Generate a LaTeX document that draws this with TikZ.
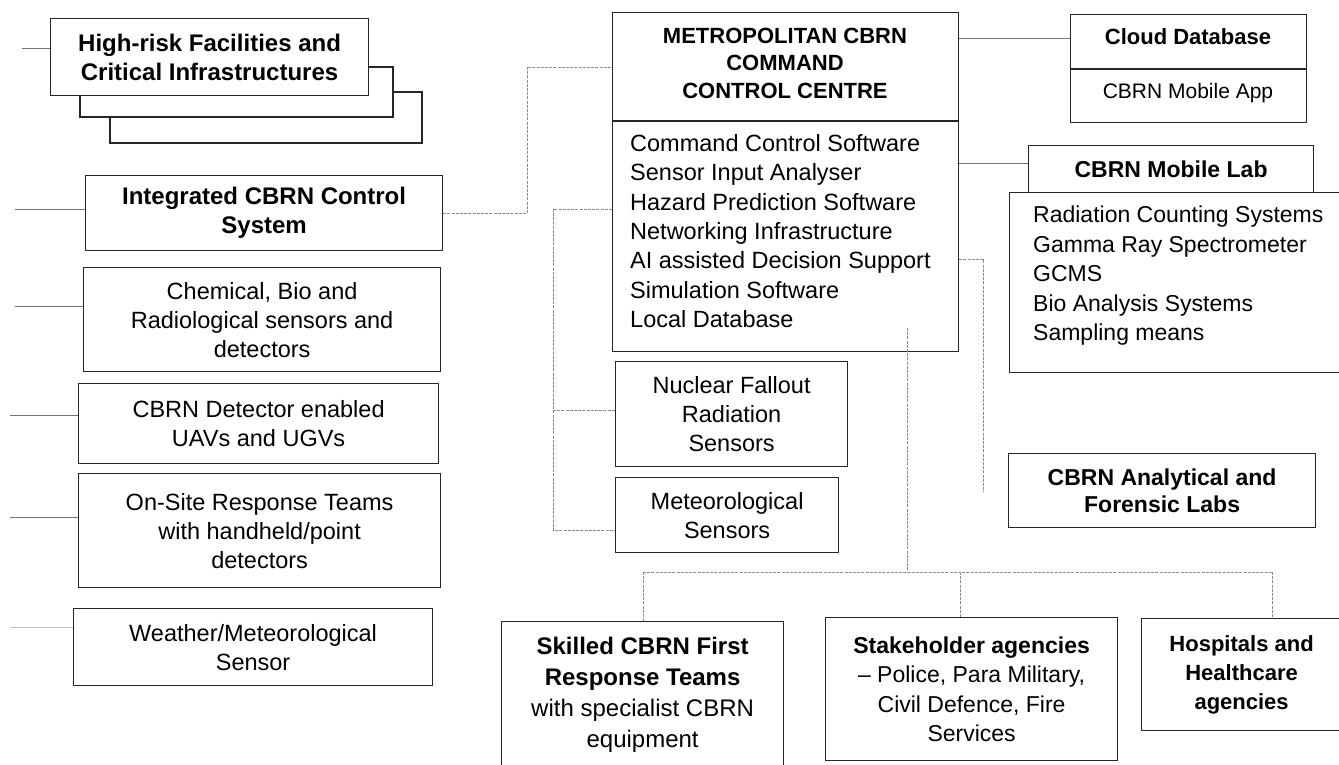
\documentclass[tikz,border=0pt]{standalone}
\usepackage{fontspec}
\setmainfont{Liberation Sans}
\usetikzlibrary{calc}
\begin{document}
\begin{tikzpicture}[x=1pt,y=-1pt,
  box/.style={draw=black!85, line width=1.2pt, inner sep=0pt, anchor=north west, align=center,
    font=\fontsize{23.5}{29}\selectfont},
  bbox/.style={box, font=\fontsize{24}{29}\selectfont\bfseries},
  txt/.style={inner sep=0pt, align=center, font=\fontsize{23.5}{29}\selectfont},
  ltxt/.style={inner sep=0pt, align=left, anchor=west, font=\fontsize{23.5}{29}\selectfont},
  bline/.style={draw=black!85, line width=1.2pt},
  conn/.style={draw=black!55, line width=0.8pt},
  dconn/.style={draw=black!45, line width=0.8pt, dash pattern=on 3pt off 1.2pt},
]
\useasboundingbox (0,0) rectangle (1339,765);
\fill[white] (0,0) rectangle (1339,765);

% ---------- left column ----------
\draw[bline] (110,117) -- (110,143) -- (422,143) -- (422,92) -- (393,92);
\draw[bline] (80,95) -- (80,117) -- (393,117) -- (393,67) -- (368,67);
\node[bbox, minimum width=318, minimum height=77, fill=white] (hr) at (50,18)
  {High-risk Facilities and\\Critical Infrastructures};
\node[bbox, minimum width=357, minimum height=75] (int) at (85,175)
  {Integrated CBRN Control\\System};
\node[box, minimum width=357, minimum height=104] (chem) at (83,267)
  {Chemical, Bio and\\Radiological sensors and\\detectors};
\node[box, minimum width=360, minimum height=80] (det) at (78,383)
  {CBRN Detector enabled\\UAVs and UGVs};
\node[box, minimum width=362, minimum height=114] (ons) at (78,473)
  {On-Site Response Teams\\with handheld/point\\detectors};
\node[box, minimum width=359, minimum height=77] (wea) at (73,608)
  {Weather/Meteorological\\Sensor};

\coordinate (s1) at (22,48);
\coordinate (s2) at (15,209);
\coordinate (s3) at (15,306);
\coordinate (s4) at (10,415);
\coordinate (s5) at (10,517);
\coordinate (s6) at (10,627);
\draw[conn] (s1) -- (hr.west |- s1);
\draw[conn] (s2) -- (int.west |- s2);
\draw[conn] (s3) -- (chem.west |- s3);
\draw[conn] (s4) -- (det.west |- s4);
\draw[conn] (s5) -- (ons.west |- s5);
\draw[conn, draw=black!25] (s6) -- (wea.west |- s6);

% ---------- centre ----------
\node[box, minimum width=346, minimum height=339] (mcc) at (612,12) {};
\node[txt, font=\fontsize{22}{27.5}\selectfont\bfseries] (mcct) at (785,63)
  {METROPOLITAN CBRN\\COMMAND\\CONTROL CENTRE};
\draw[bline] (mcc.west |- 0,121) -- (mcc.east |- 0,121);
\node[ltxt, font=\fontsize{23.5}{29.3}\selectfont] (mccl) at (630,231)
  {Command Control Software\\Sensor Input Analyser\\Hazard Prediction Software\\Networking Infrastructure\\AI assisted Decision Support\\Simulation Software\\Local Database};

\node[box, minimum width=232, minimum height=105] (nuc) at (615,361)
  {Nuclear Fallout\\Radiation\\Sensors};
\node[box, minimum width=223, minimum height=75] (met) at (615,477)
  {Meteorological\\Sensors};

\draw[dconn] (int.east) -| (527,67) -- (mcc.west |- 527,67);
\draw[dconn] (mcc.west |- 0,209) -- (553,209) -- (553,530) -- (met.west |- 0,530);
\draw[dconn] (553,410) -- (nuc.west |- 0,410);

% ---------- right ----------
\node[box, minimum width=236, minimum height=108] (cloud) at (1070,14) {};
\draw[bline] (cloud.west |- 0,69) -- (cloud.east |- 0,69);
\node[txt, font=\fontsize{22}{27}\selectfont\bfseries] (cloudt) at (1188,37) {Cloud Database};
\node[txt, font=\fontsize{21}{27}\selectfont] (app) at (1188,93) {CBRN Mobile App};

\node[bbox, minimum width=285, minimum height=47, font=\fontsize{23}{29}\selectfont\bfseries] (lab) at (1028,145)
  {CBRN Mobile Lab};
\node[box, minimum width=334, minimum height=180] (labb) at (1009,192) {};
\node[ltxt, font=\fontsize{23}{29.5}\selectfont] (labl) at (1033,276)
  {Radiation Counting Systems\\Gamma Ray Spectrometer\\GCMS\\Bio Analysis Systems\\Sampling means};

\node[bbox, minimum width=307, minimum height=74, font=\fontsize{23}{27}\selectfont\bfseries] (ana) at (1008,453)
  {CBRN Analytical and\\Forensic Labs};

\draw[conn] (mcc.east |- 0,38) -- (cloud.west |- 0,38);
\draw[conn] (mcc.east |- 0,163) -- (lab.west |- 0,163);
\coordinate (e1) at (983,492);
\draw[dconn] (mcc.east |- 0,259) -| (e1);

% ---------- bottom ----------
\node[box, minimum width=282, minimum height=147, font=\fontsize{24}{31}\selectfont] (skill) at (501,621)
  {\textbf{Skilled CBRN First}\\\textbf{Response Teams}\\with specialist CBRN\\equipment};
\node[box, minimum width=292, minimum height=143, font=\fontsize{23}{29.5}\selectfont] (stake) at (825,617)
  {\textbf{Stakeholder agencies}\\– Police, Para Military,\\Civil Defence, Fire\\Services};
\node[bbox, minimum width=200, minimum height=112, font=\fontsize{22}{29}\selectfont\bfseries] (hosp) at (1141,618)
  {Hospitals and\\Healthcare\\agencies};

\coordinate (b0) at (907,328);
\coordinate (bus) at (907,572);
\coordinate (busL) at (643,572);
\coordinate (busR) at (1272,572);
\coordinate (busM) at (960,572);
\draw[dconn] (b0) -- (bus);
\draw[dconn] (busL) -- (busR);
\draw[dconn] (busL) -- (skill.north -| busL);
\draw[dconn] (busM) -- (stake.north -| busM);
\draw[dconn] (busR) -- (hosp.north -| busR);
\end{tikzpicture}
\end{document}
